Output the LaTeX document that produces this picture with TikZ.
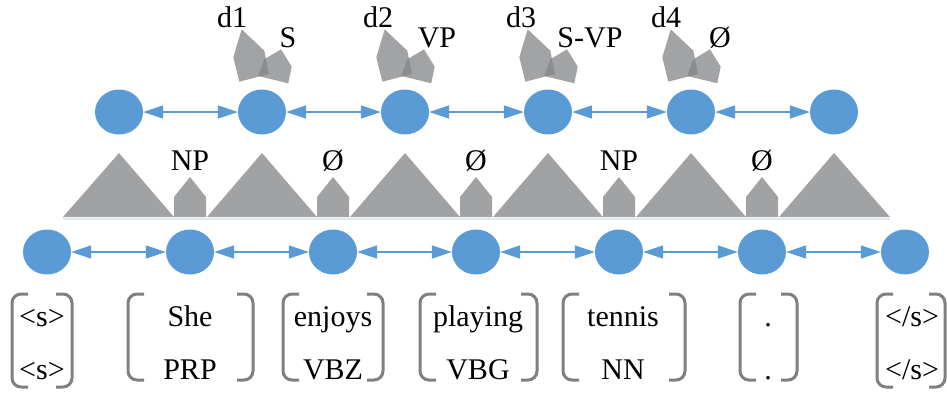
\documentclass[tikz,border=0pt]{standalone}
\usepackage{fontspec}
\setmainfont{Liberation Serif}
\newfontfamily\tnr{Liberation Serif}
\usetikzlibrary{shapes.geometric,arrows.meta}
\definecolor{nodeblue}{RGB}{91,155,213}
\definecolor{shapegray}{RGB}{161,162,164}
\definecolor{decgray}{RGB}{131,132,134}
\definecolor{brgray}{RGB}{128,128,128}
\definecolor{baseglow}{RGB}{222,231,242}
\begin{document}
\begin{tikzpicture}[x=1pt,y=-1pt,
  state/.style={ellipse, fill=nodeblue, minimum width=48pt, minimum height=45pt, inner sep=0pt},
  link/.style={{Triangle[length=20pt,width=13pt]}-{Triangle[length=20pt,width=13pt]}, draw=nodeblue, fill=nodeblue, line width=1.3pt},
  lbl/.style={font=\tnr\fontsize{30}{36}\selectfont, inner sep=0pt, anchor=base},
  bracket/.style={draw=brgray, line width=3pt, rounded corners=9pt},
  tri/.style={fill=shapegray},
  decision/.pic={
    \fill[decgray, fill opacity=0.75] (-20.3,29.3) -- (2.3,50.7) -- (7,74) -- (-22.7,81.7) -- (-28.7,57.3) -- cycle;
    \fill[decgray, fill opacity=0.75] (19,49.3) -- (29.7,66.7) -- (26.3,83.3) -- (-3.7,76) -- (2.3,59.3) -- cycle;
  }
]
\useasboundingbox (0,0) rectangle (947,392);

% faint shadow under the triangle row
\draw[baseglow, line width=2pt] (63,219) -- (890,219);

% top states
\foreach \i/\x in {1/119,2/262,3/405,4/548,5/691,6/834}
  \node[state] (t\i) at (\x,112) {};
% bottom states
\foreach \i/\x in {1/47,2/190,3/333,4/476,5/619,6/762,7/905}
  \node[state] (b\i) at (\x,252) {};

% links
\foreach \i/\j in {1/2,2/3,3/4,4/5,5/6}
  \draw[link] (t\i) -- (t\j);
\foreach \i/\j in {1/2,2/3,3/4,4/5,5/6,6/7}
  \draw[link] (b\i) -- (b\j);

% decision shapes
\foreach \x in {262,405,548,691}
  \pic at (\x,0) {decision};

\node[lbl] (d1) at (232,27) {d1};
\node[lbl] (l1) at (288,47) {S};
\node[lbl] (d2) at (378,27) {d2};
\node[lbl] (l2) at (437,47) {VP};
\node[lbl] (d3) at (521,27) {d3};
\node[lbl] (l3) at (590,47) {S-VP};
\node[lbl] (d4) at (666,27) {d4};
\node[lbl] (l4) at (720,47) {Ø};

% triangles
\fill[tri] (63,217) -- (119,153) -- (174,217) -- cycle;
\fill[tri] (207,217) -- (262,153) -- (317,217) -- cycle;
\fill[tri] (350,217) -- (405,153) -- (460,217) -- cycle;
\fill[tri] (493,217) -- (548,153) -- (603,217) -- cycle;
\fill[tri] (636,217) -- (691,153) -- (746,217) -- cycle;
\fill[tri] (779,217) -- (834,153) -- (890,217) -- cycle;
% houses
\foreach \x in {190,333,476,619,762}
  \fill[tri] (\x-16,217) -- (\x-16,197) -- (\x,177) -- (\x+16,197) -- (\x+16,217) -- cycle;

\node[lbl] (h2) at (190,170) {NP};
\node[lbl] (h3) at (333,170) {Ø};
\node[lbl] (h4) at (476,170) {Ø};
\node[lbl] (h5) at (619,170) {NP};
\node[lbl] (h6) at (762,170) {Ø};

% brackets
\foreach \l/\r/\t/\b in {12/72/294/387,128/253/294/380,283/383/294/380,420/537/294/380,563/685/294/380,740/797/294/380,877/945/294/387} {
  \draw[bracket] (\l+16,\t) -- (\l,\t) -- (\l,\b) -- (\l+16,\b);
  \draw[bracket] (\r-16,\t) -- (\r,\t) -- (\r,\b) -- (\r-16,\b);
}

% words and tags
\node[lbl] (w1) at (42,326) {<s>};
\node[lbl] (p1) at (42,379) {<s>};
\node[lbl] (w2) at (190,326) {She};
\node[lbl] (p2) at (190,379) {PRP};
\node[lbl] (w3) at (333,326) {enjoys};
\node[lbl] (p3) at (333,379) {VBZ};
\node[lbl] (w4) at (478,326) {playing};
\node[lbl] (p4) at (478,379) {VBG};
\node[lbl] (w5) at (623,326) {tennis};
\node[lbl] (p5) at (623,379) {NN};
\node[lbl] (w6) at (768,326) {.};
\node[lbl] (p6) at (768,379) {.};
\node[lbl] (w7) at (912,326) {</s>};
\node[lbl] (p7) at (912,379) {</s>};
\end{tikzpicture}
\end{document}
